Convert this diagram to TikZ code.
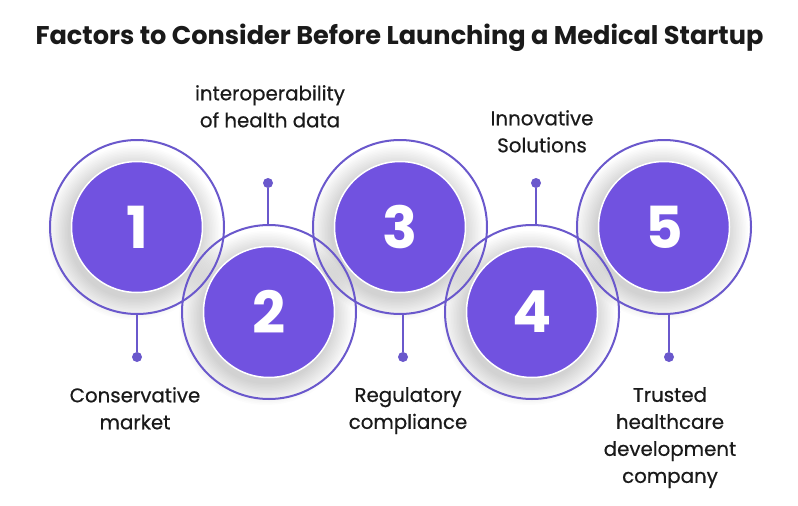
\documentclass[tikz,border=0pt]{standalone}
\usepackage{fontspec}
\setmainfont{Poppins}
\newfontfamily\labfont{Poppins}[FakeBold=0.5]
\definecolor{ringc}{HTML}{6A58CC}
\definecolor{fillc}{HTML}{7152E0}
\definecolor{txt}{HTML}{1A1A1A}
\tikzset{
  ringbox/.style={circle, draw=ringc, line width=2pt, minimum size=174pt, inner sep=0pt},
  discbox/.style={circle, fill=fillc, draw=white, line width=1.5pt, minimum size=131pt, inner sep=0pt,
    text=white, font=\bfseries\fontsize{58}{60}\selectfont},
  dotbox/.style={circle, fill=ringc, minimum size=10pt, inner sep=0pt},
  conn/.style={draw=ringc, line width=2pt},
  lab/.style={align=center, text=txt, inner sep=0pt, anchor=north, font=\labfont\fontsize{19.8}{27}\selectfont},
  shade/.style={fill=black, opacity=0.013}
}
\begin{document}
\begin{tikzpicture}[x=1pt,y=-1pt]
\useasboundingbox[fill=white] (0,0) rectangle (798,506);
% shadows
\foreach \cx/\cy in {137/227, 269/312, 400/227, 532/312, 664/227}{
  \foreach \r in {66,67.5,...,87}{
    \fill[shade] (\cx-3,\cy+6) circle[radius=\r];
  }
}
% rings
\node[ringbox] (r1) at (137,227) {};
\node[ringbox] (r2) at (269,312) {};
\node[ringbox] (r3) at (400,227) {};
\node[ringbox] (r4) at (532,312) {};
\node[ringbox] (r5) at (664,227) {};
% dots and connectors
\node[dotbox] (d1) at (137,357) {};
\node[dotbox] (d2) at (268,183) {};
\node[dotbox] (d3) at (403,357) {};
\node[dotbox] (d4) at (536,183) {};
\node[dotbox] (d5) at (669,357) {};
\draw[conn] (d1) -- (d1 |- r1.south);
\draw[conn] (d2) -- (d2 |- r2.north);
\draw[conn] (d3) -- (d3 |- r3.south);
\draw[conn] (d4) -- (d4 |- r4.north);
\draw[conn] (d5) -- (d5 |- r5.south);
% discs
\node[discbox] (c1) at (137,227) {1};
\node[discbox] (c2) at (269,312) {2};
\node[discbox] (c3) at (400,227) {3};
\node[discbox] (c4) at (532,312) {4};
\node[discbox] (c5) at (664,227) {5};
% title
\node[text=txt, font=\bfseries\fontsize{25.6}{30}\selectfont, anchor=base] (title) at (399.5,44)
  {Factors to Consider Before Launching a Medical Startup};
% labels
\node[lab] (l1) at (135,387) {Conservative\\market};
\node[lab] (l2) at (270,85) {interoperability\\of health data};
\node[lab] (l3) at (408,387) {Regulatory\\compliance};
\node[lab] (l4) at (542,110) {Innovative\\Solutions};
\node[lab] (l5) at (670,387) {Trusted\\healthcare\\development\\company};
\end{tikzpicture}
\end{document}
